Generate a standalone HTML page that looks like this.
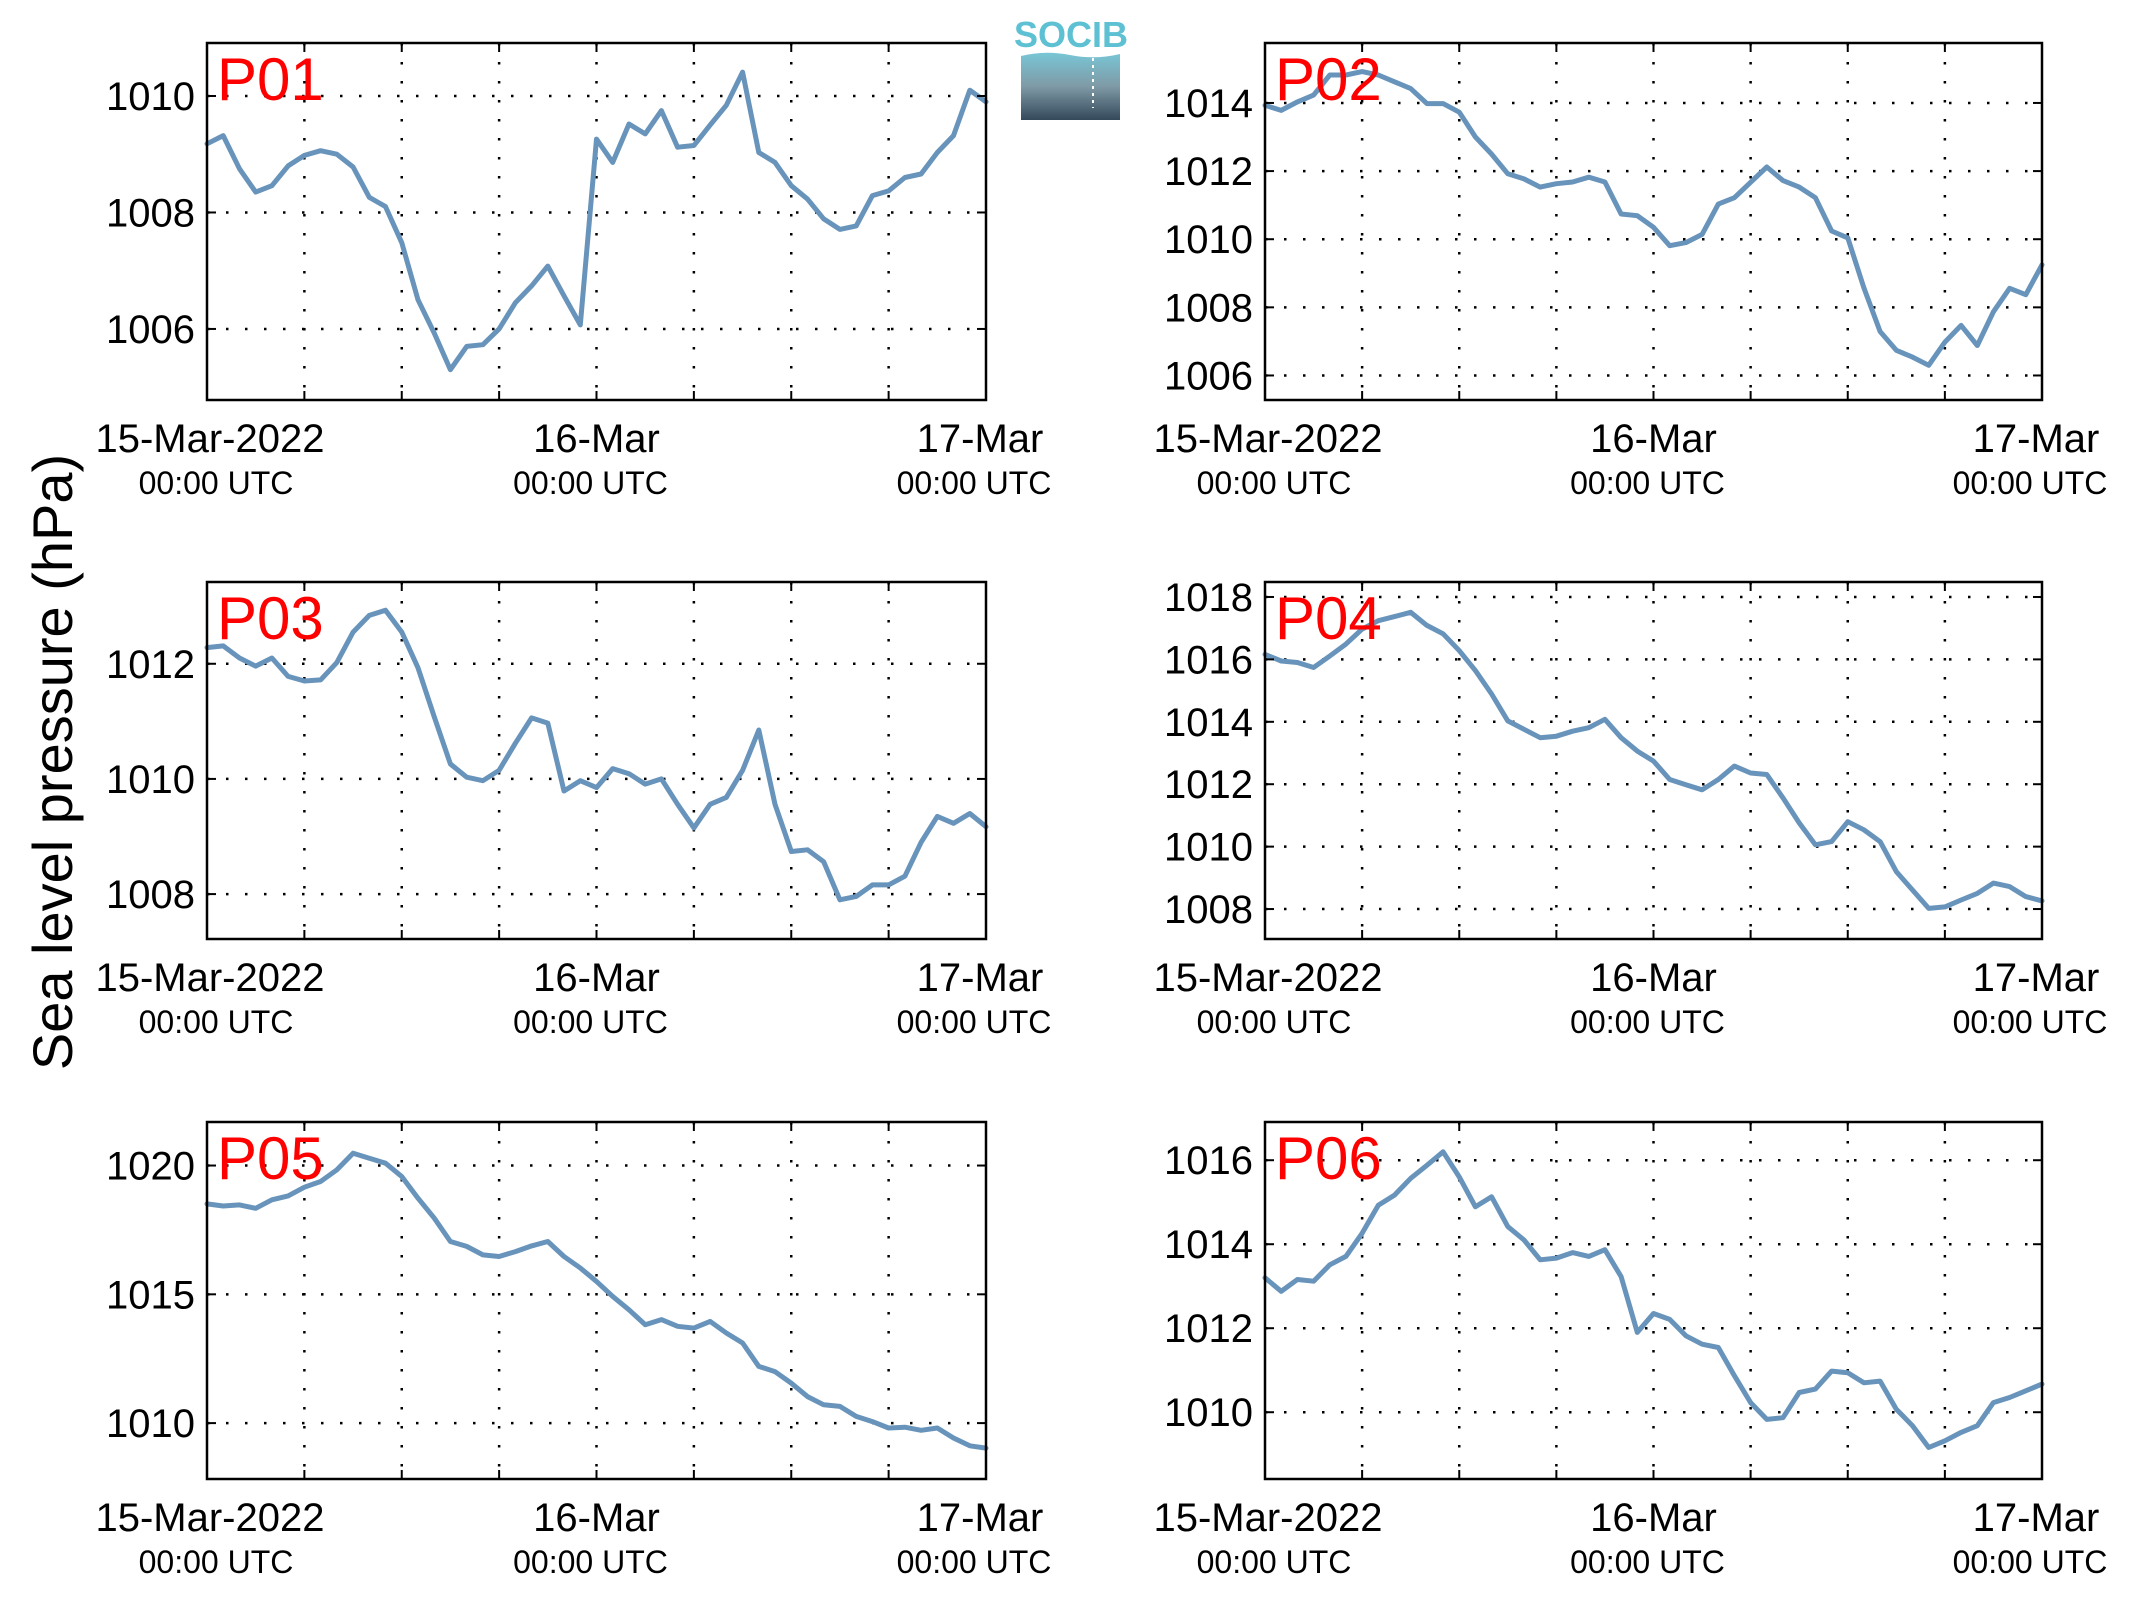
<!DOCTYPE html>
<html>
<head>
<meta charset="utf-8">
<style>
  html,body{margin:0;padding:0;background:#fff;}
  body{width:2133px;height:1608px;overflow:hidden;}
  svg{display:block;font-family:"Liberation Sans",Arial,sans-serif;}
</style>
</head>
<body>
<svg id="chart" width="2133" height="1608" viewBox="0 0 2133 1608" xmlns="http://www.w3.org/2000/svg">
  <defs>
    <linearGradient id="logoGrad" x1="0" y1="0" x2="0" y2="1">
      <stop offset="0" stop-color="#78c6d6"/>
      <stop offset="0.5" stop-color="#7f9aa6"/>
      <stop offset="1" stop-color="#34495a"/>
    </linearGradient>
  </defs>
  <g>
    <text x="1071" y="47" text-anchor="middle" font-size="36" font-weight="bold" fill="#5dc1d3">SOCIB</text>
    <path d="M1021 56 Q1045 50 1070 55 T1120 54 L1120 120 L1021 120 Z" fill="url(#logoGrad)"/>
    <line x1="1093" y1="58" x2="1093" y2="108" stroke="#fff" stroke-width="2" stroke-dasharray="3 4"/>
  </g>
  <text transform="translate(72,762) rotate(-90)" text-anchor="middle" font-size="56" fill="#000">Sea level pressure (hPa)</text>
  <g id="panels"></g>
</svg>
<script>
// hourly samples, 15-Mar-2022 00:00 to 17-Mar-2022 00:00 UTC
const hours = Array.from({length:49},(_,i)=>i);
const xTickHours = [0,6,12,18,24,30,36,42,48];
const dateLabels = ["15-Mar-2022","16-Mar","17-Mar"];
const dateLabelHours = [0,24,48];
const timeLabel = "00:00 UTC";
const stationNames = ["P01","P02","P03","P04","P05","P06"];

const p01 = [1009.18,1009.32,1008.75,1008.35,1008.46,1008.8,1008.98,1009.06,1009.0,1008.78,1008.26,1008.1,1007.48,1006.5,1005.93,1005.3,1005.7,1005.73,1006.0,1006.45,1006.74,1007.08,1006.57,1006.07,1009.26,1008.86,1009.52,1009.35,1009.75,1009.12,1009.15,1009.5,1009.84,1010.41,1009.03,1008.86,1008.46,1008.23,1007.89,1007.71,1007.77,1008.29,1008.37,1008.6,1008.66,1009.03,1009.32,1010.1,1009.9];
const p02 = [1013.93,1013.78,1014.03,1014.23,1014.82,1014.82,1014.92,1014.82,1014.62,1014.42,1013.98,1013.98,1013.73,1013.0,1012.5,1011.92,1011.77,1011.53,1011.63,1011.68,1011.82,1011.68,1010.74,1010.69,1010.35,1009.81,1009.9,1010.14,1011.03,1011.22,1011.67,1012.12,1011.72,1011.53,1011.22,1010.24,1010.04,1008.57,1007.29,1006.74,1006.54,1006.3,1006.98,1007.47,1006.88,1007.87,1008.56,1008.37,1009.25];
const p03 = [1012.28,1012.31,1012.1,1011.96,1012.1,1011.78,1011.7,1011.72,1012.02,1012.55,1012.84,1012.93,1012.55,1011.93,1011.08,1010.26,1010.03,1009.97,1010.15,1010.62,1011.06,1010.97,1009.79,1009.97,1009.85,1010.18,1010.09,1009.91,1010.0,1009.56,1009.15,1009.56,1009.68,1010.15,1010.85,1009.56,1008.74,1008.77,1008.56,1007.9,1007.96,1008.16,1008.16,1008.31,1008.9,1009.35,1009.23,1009.4,1009.17];
const p04 = [1016.16,1015.95,1015.9,1015.74,1016.11,1016.49,1016.97,1017.24,1017.37,1017.51,1017.09,1016.82,1016.28,1015.64,1014.89,1014.03,1013.76,1013.49,1013.54,1013.7,1013.81,1014.08,1013.49,1013.06,1012.74,1012.15,1011.98,1011.82,1012.15,1012.58,1012.36,1012.31,1011.56,1010.76,1010.06,1010.16,1010.8,1010.54,1010.16,1009.2,1008.61,1008.02,1008.07,1008.29,1008.5,1008.83,1008.72,1008.4,1008.26];
const p05 = [1018.51,1018.43,1018.47,1018.34,1018.67,1018.82,1019.16,1019.38,1019.83,1020.48,1020.28,1020.09,1019.57,1018.73,1017.96,1017.05,1016.86,1016.53,1016.47,1016.66,1016.88,1017.05,1016.47,1016.02,1015.5,1014.92,1014.4,1013.82,1014.02,1013.76,1013.69,1013.95,1013.5,1013.11,1012.2,1012.0,1011.55,1011.03,1010.71,1010.65,1010.26,1010.06,1009.81,1009.84,1009.72,1009.81,1009.42,1009.12,1009.03];
const p06 = [1013.2,1012.88,1013.16,1013.12,1013.51,1013.71,1014.26,1014.93,1015.17,1015.57,1015.88,1016.2,1015.6,1014.89,1015.13,1014.42,1014.1,1013.63,1013.67,1013.8,1013.71,1013.87,1013.23,1011.9,1012.35,1012.21,1011.82,1011.62,1011.54,1010.87,1010.23,1009.83,1009.87,1010.47,1010.55,1010.98,1010.94,1010.7,1010.74,1010.07,1009.68,1009.16,1009.32,1009.52,1009.68,1010.23,1010.35,1010.51,1010.67];
const seriesList = [p01,p02,p03,p04,p05,p06];

const yMins = [1004.78,1005.28,1007.22,1007.04,1007.83,1008.41];
const yMaxs = [1010.91,1015.76,1013.42,1018.48,1021.69,1016.91];
const yTicks1 = [1006,1008,1010];
const yTicks2 = [1006,1008,1010,1012,1014];
const yTicks3 = [1008,1010,1012];
const yTicks4 = [1008,1010,1012,1014,1016,1018];
const yTicks5 = [1010,1015,1020];
const yTicks6 = [1010,1012,1014,1016];
const yTickSets = [yTicks1,yTicks2,yTicks3,yTicks4,yTicks5,yTicks6];

const NS = "http://www.w3.org/2000/svg";
const root = document.getElementById("panels");
const colX = [[207,986],[1265,2042]];
const rowY = [[43,400],[582,939],[1122,1479]];

function mk(tag, attrs, parent){
  const e = document.createElementNS(NS, tag);
  for (const k in attrs) e.setAttribute(k, attrs[k]);
  parent.appendChild(e);
  return e;
}

seriesList.forEach((data, idx) => {
  const col = idx % 2, row = Math.floor(idx/2);
  const x0 = colX[col][0], x1 = colX[col][1];
  const y0 = rowY[row][0], y1 = rowY[row][1];
  const xScale = h => x0 + (h - 0) / 48 * (x1 - x0);
  const yScale = v => y1 - (v - yMins[idx]) / (yMaxs[idx] - yMins[idx]) * (y1 - y0);

  const g = mk("g", {}, root);
  
  

  const grid = mk("g", {stroke:"#000","stroke-width":"2.5","stroke-dasharray":"2.5 16.5",fill:"none"}, g);
  
  
  xTickHours.slice(1,-1).forEach(h=>{
    mk("line",{x1:xScale(h),x2:xScale(h),y1:y0,y2:y1},grid);
  });
  yTickSets[idx].forEach(v=>{
    mk("line",{x1:x0,x2:x1,y1:yScale(v),y2:yScale(v)},grid);
  });

  const pts = data.map((v,i)=>xScale(hours[i]).toFixed(1)+","+yScale(v).toFixed(1)).join(" ");
  const line = mk("polyline",{points:pts,fill:"none",stroke:"#6894bb","stroke-width":"5","stroke-linejoin":"round","stroke-linecap":"round"},g);
  
  

  const ticks = mk("g",{stroke:"#000","stroke-width":"2"},g);
  
  
  xTickHours.forEach(h=>{
    const x = xScale(h);
    mk("line",{x1:x,x2:x,y1:y1,y2:y1-9},ticks);
    mk("line",{x1:x,x2:x,y1:y0,y2:y0+9},ticks);
  });
  yTickSets[idx].forEach(v=>{
    const y = yScale(v);
    mk("line",{x1:x0,x2:x0+9,y1:y,y2:y},ticks);
    mk("line",{x1:x1,x2:x1-9,y1:y,y2:y},ticks);
  });

  const frame = mk("rect",{x:x0,y:y0,width:x1-x0,height:y1-y0,fill:"none",stroke:"#000","stroke-width":"2.5"},g);
  
  

  yTickSets[idx].forEach(v=>{
    const t = mk("text",{x:x0-12,y:yScale(v)+14,"text-anchor":"end","font-size":"40",fill:"#000"},g);
    t.textContent = String(v);
    
    
  });

  dateLabels.forEach((lab,i)=>{
    const x = xScale(dateLabelHours[i]);
    const off = i===0 ? 3 : (i===2 ? -6 : 0);
    const t = mk("text",{x:x+off,y:y1+52,"text-anchor":"middle","font-size":"40",fill:"#000"},g);
    t.textContent = lab;
    
    
    const off2 = i===0 ? 9 : (i===2 ? -12 : -6);
    const u = mk("text",{x:x+off2,y:y1+94,"text-anchor":"middle","font-size":"32",fill:"#000"},g);
    u.textContent = timeLabel;
    
    
  });

  const st = mk("text",{x:x0+10,y:y0+57,"font-size":"60",fill:"#ff0000"},g);
  st.textContent = stationNames[idx];
  
  
});
</script>
</body>
</html>
